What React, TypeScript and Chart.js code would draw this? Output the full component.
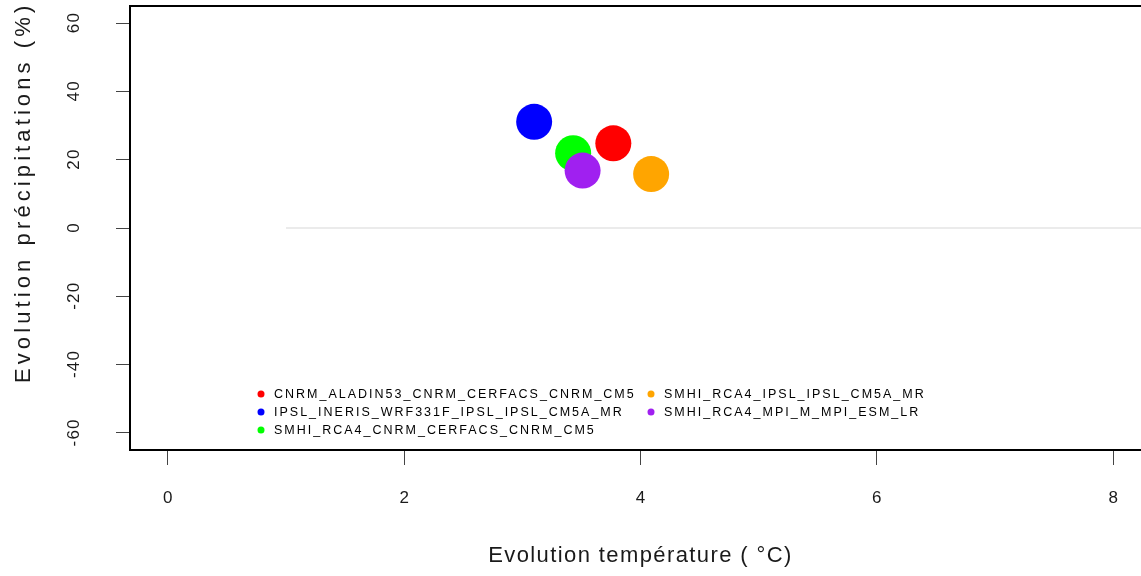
import React, { useEffect, useRef } from 'react';
import { Chart, registerables } from 'chart.js';

Chart.register(...registerables);

// ---- data ----
const models = [
  'CNRM_ALADIN53_CNRM_CERFACS_CNRM_CM5',
  'IPSL_INERIS_WRF331F_IPSL_IPSL_CM5A_MR',
  'SMHI_RCA4_CNRM_CERFACS_CNRM_CM5',
  'SMHI_RCA4_IPSL_IPSL_CM5A_MR',
  'SMHI_RCA4_MPI_M_MPI_ESM_LR',
];
const temperatureChange = [3.77, 3.1, 3.43, 4.09, 3.51];
const precipitationChange = [24.8, 31.1, 21.9, 15.8, 16.8];
const seriesColors = ['#FF0000', '#0000FF', '#00FF00', '#FFA500', '#A020F0'];

const xTicks = [0, 2, 4, 6, 8];
const yTicks = [-60, -40, -20, 0, 20, 40, 60];
const xRange = [-0.32, 8.32];
const yRange = [-65, 65];
const zeroLineX = [1, 8.32];
const zeroLineY = [0, 0];

const xTitle = 'Evolution température ( °C)';
const yTitle = 'Evolution précipitations (%)';

const FONT = "'Liberation Sans', Arial, Helvetica, sans-serif";

const boxPlugin = {
  id: 'rbox',
  afterDatasetsDraw(chart: any) {
    const { ctx, chartArea } = chart;
    ctx.save();
    ctx.strokeStyle = '#000';
    ctx.lineWidth = 2;
    ctx.strokeRect(chartArea.left, chartArea.top, chartArea.right - chartArea.left, chartArea.bottom - chartArea.top);
    ctx.restore();
  },
};

const textPlugin = {
  id: 'rtext',
  afterDraw(chart: any) {
    const { ctx, chartArea } = chart;
    const ys = chart.scales.y;
    ctx.save();
    // y tick labels (rotated, like R las=0)
    ctx.font = `17px ${FONT}`;
    ctx.fillStyle = '#1a1a1a';
    ctx.textAlign = 'center';
    ctx.textBaseline = 'middle';
    ctx.letterSpacing = '1.2px';
    yTicks.forEach((v) => {
      const py = ys.getPixelForValue(v);
      ctx.save();
      ctx.translate(ys.right - 56, py);
      ctx.rotate(-Math.PI / 2);
      ctx.fillText(String(v), 0.6, 0);
      ctx.restore();
    });
    // x title
    const cx = (chartArea.left + chartArea.right) / 2;
    const cy = (chartArea.top + chartArea.bottom) / 2;
    ctx.font = `22px ${FONT}`;
    ctx.letterSpacing = '1.4px';
    ctx.textAlign = 'center';
    ctx.textBaseline = 'middle';
    ctx.fillText(xTitle, cx, chartArea.bottom + 106);
    // y title
    ctx.save();
    ctx.letterSpacing = '4.1px';
    ctx.translate(24, cy + 155);
    ctx.rotate(-Math.PI / 2);
    ctx.textAlign = 'left';
    ctx.fillText(yTitle, 0, 0);
    ctx.restore();
    ctx.restore();
  },
};

const legendPlugin = {
  id: 'rlegend',
  afterDraw(chart: any) {
    const { ctx, chartArea } = chart;
    ctx.save();
    ctx.font = `12.5px ${FONT}`;
    ctx.letterSpacing = '2px';
    ctx.textAlign = 'left';
    ctx.textBaseline = 'middle';
    const rowsPerCol = 3;
    models.forEach((name, i) => {
      const col = Math.floor(i / rowsPerCol);
      const row = i % rowsPerCol;
      const x = chartArea.left + 131 + col * 390;
      const y = chartArea.bottom - 56 + row * 18;
      ctx.fillStyle = seriesColors[i];
      ctx.beginPath();
      ctx.arc(x, y, 3.5, 0, Math.PI * 2);
      ctx.fill();
      ctx.fillStyle = '#000';
      ctx.fillText(name, x + 13, y + 0.5);
    });
    ctx.restore();
  },
};

export default function App() {
  const ref = useRef<HTMLCanvasElement | null>(null);

  useEffect(() => {
    if (!ref.current) return;
    const datasets: any[] = models.map((name, i) => ({
      type: 'scatter',
      label: name,
      data: [{ x: temperatureChange[i], y: precipitationChange[i] }],
      backgroundColor: seriesColors[i],
      borderWidth: 0,
      pointRadius: 18,
      pointHoverRadius: 18,
      order: models.length - i,
    }));
    datasets.push({
      type: 'line',
      label: 'zero',
      data: zeroLineX.map((x, i) => ({ x, y: zeroLineY[i] })),
      borderColor: '#ebebeb',
      borderWidth: 2,
      pointRadius: 0,
      fill: false,
      order: 100,
    });

    const chart = new Chart(ref.current, {
      type: 'scatter',
      data: { datasets },
      options: {
        animation: false,
        responsive: false,
        devicePixelRatio: 1,
        events: [],
        layout: { autoPadding: false, padding: { top: 6, left: 0, right: 1, bottom: 0 } },
        plugins: { legend: { display: false }, tooltip: { enabled: false } },
        scales: {
          x: {
            type: 'linear',
            min: xRange[0],
            max: xRange[1],
            afterBuildTicks: (s: any) => {
              s.ticks = xTicks.map((v) => ({ value: v }));
            },
            afterFit: (s: any) => {
              s.height = 126;
              s.paddingLeft = 0;
              s.paddingRight = 0;
              s.paddingTop = 0;
              s.paddingBottom = 0;
            },
            grid: { drawOnChartArea: false, drawTicks: true, tickLength: 15, color: '#444', lineWidth: 1 },
            border: { display: false },
            ticks: {
              font: { family: FONT, size: 17 },
              color: '#1a1a1a',
              padding: 23,
              maxRotation: 0,
              autoSkip: false,
            },
            title: { display: false },
          },
          y: {
            type: 'linear',
            min: yRange[0],
            max: yRange[1],
            afterBuildTicks: (s: any) => {
              s.ticks = yTicks.map((v) => ({ value: v }));
            },
            afterFit: (s: any) => {
              s.width = 130;
              s.paddingLeft = 0;
              s.paddingRight = 0;
              s.paddingTop = 0;
              s.paddingBottom = 0;
            },
            grid: { drawOnChartArea: false, drawTicks: true, tickLength: 14, color: '#444', lineWidth: 1 },
            border: { display: false },
            ticks: { display: false },
            title: { display: false },
          },
        },
      },
      plugins: [boxPlugin, textPlugin, legendPlugin],
    } as any);
    return () => chart.destroy();
  }, []);

  return (
    <div style={{ position: 'fixed', left: 0, top: 0, width: 1141, height: 576, overflow: 'hidden', background: '#fff' }}>
      <canvas ref={ref} width={1152} height={576} style={{ display: 'block' }} />
    </div>
  );
}
